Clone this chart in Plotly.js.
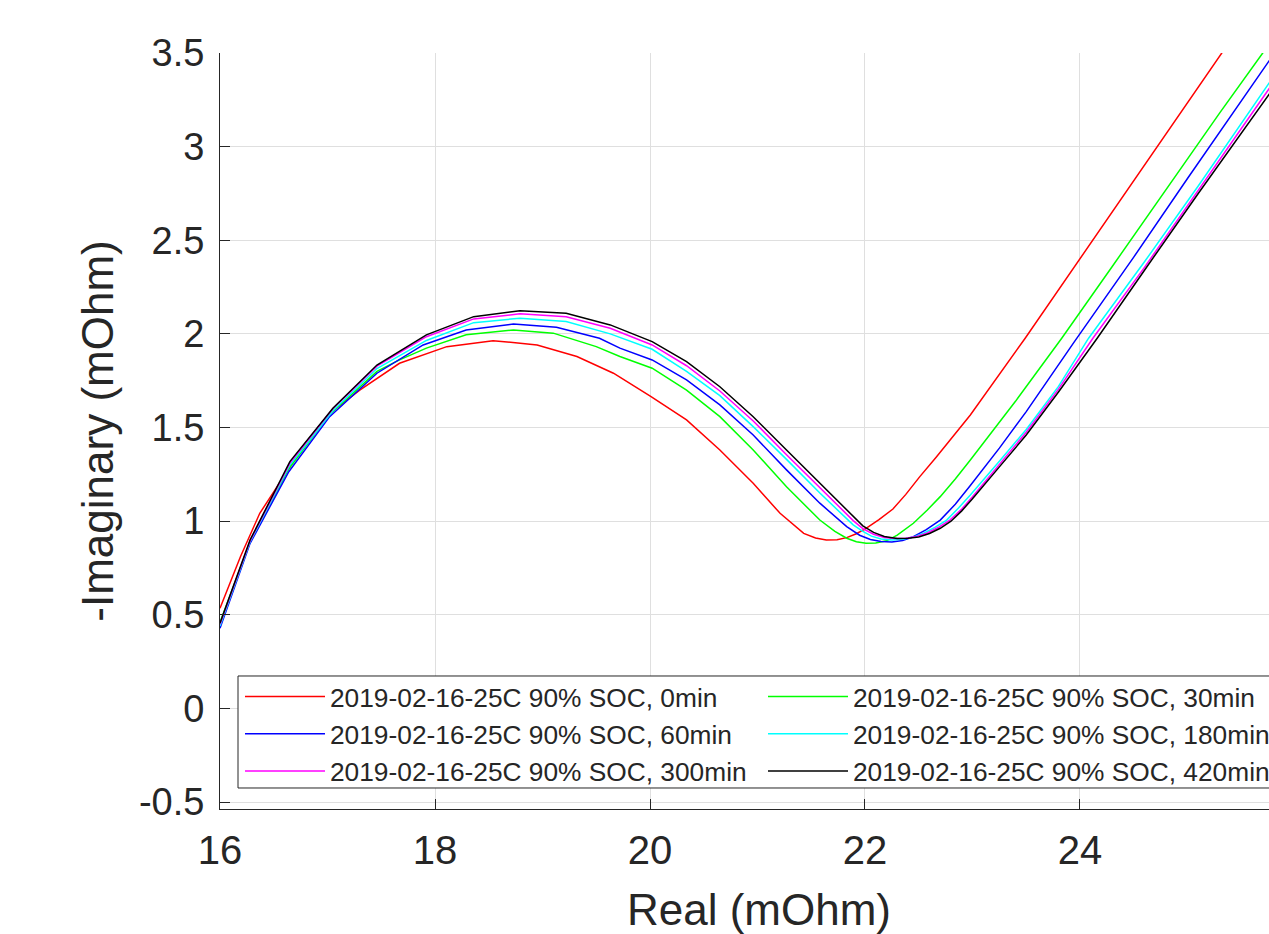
<!DOCTYPE html>
<html>
<head>
<meta charset="utf-8">
<script src="https://cdn.plot.ly/plotly-3.0.1.min.js"></script>
<style>
  html, body { margin: 0; padding: 0; background: #ffffff; overflow: hidden; width: 1269px; height: 934px; }
  #chart { width: 1298px; height: 934px; }
</style>
</head>
<body>
<div id="chart"></div>
<script>
// ---- Data ----
const seriesLabels = [
  "2019-02-16-25C 90% SOC, 0min",
  "2019-02-16-25C 90% SOC, 30min",
  "2019-02-16-25C 90% SOC, 60min",
  "2019-02-16-25C 90% SOC, 180min",
  "2019-02-16-25C 90% SOC, 300min",
  "2019-02-16-25C 90% SOC, 420min"
];
const seriesColors = ["#ff0000", "#00ff00", "#0000ff", "#00ffff", "#ff00ff", "#000000"];

const real_0min = [16.0, 16.19, 16.37, 16.59, 16.8, 17.02, 17.3, 17.67, 18.11, 18.54, 18.95, 19.32, 19.66, 20.01, 20.34, 20.65, 20.96, 21.21, 21.43, 21.54, 21.64, 21.74, 21.83, 21.92, 22.01, 22.13, 22.26, 22.38, 22.51, 22.66, 22.82, 22.98, 23.49, 24.0, 24.5, 25.0, 25.32, 25.8, 26.1];
const imag_0min = [0.535, 0.81, 1.042, 1.238, 1.42, 1.575, 1.70, 1.843, 1.932, 1.964, 1.941, 1.879, 1.79, 1.665, 1.541, 1.38, 1.202, 1.042, 0.935, 0.91, 0.90, 0.901, 0.912, 0.933, 0.962, 1.008, 1.065, 1.143, 1.238, 1.34, 1.451, 1.567, 1.977, 2.40, 2.815, 3.23, 3.5, 3.9, 4.15];

const real_30min = [16.0, 16.28, 16.64, 17.02, 17.46, 17.67, 17.92, 18.29, 18.73, 19.1, 19.5, 19.72, 20.02, 20.34, 20.65, 20.96, 21.27, 21.58, 21.72, 21.83, 21.92, 22.01, 22.1, 22.2, 22.3, 22.45, 22.58, 22.7, 22.84, 22.98, 23.4, 23.83, 24.3, 24.8, 25.3, 25.7, 26.1];
const imag_30min = [0.46, 0.89, 1.28, 1.57, 1.80, 1.861, 1.924, 1.995, 2.021, 2.004, 1.932, 1.879, 1.817, 1.70, 1.558, 1.38, 1.184, 1.006, 0.945, 0.909, 0.89, 0.882, 0.884, 0.895, 0.925, 0.989, 1.06, 1.131, 1.225, 1.327, 1.64, 1.977, 2.36, 2.77, 3.18, 3.5, 3.82];

const real_60min = [16.0, 16.28, 16.64, 17.02, 17.46, 17.89, 18.29, 18.73, 19.13, 19.53, 19.72, 20.02, 20.34, 20.65, 20.96, 21.27, 21.58, 21.83, 21.95, 22.05, 22.15, 22.25, 22.35, 22.45, 22.57, 22.7, 22.84, 22.98, 23.25, 23.5, 23.95, 24.5, 25.0, 25.76, 26.1];
const imag_60min = [0.428, 0.882, 1.264, 1.558, 1.79, 1.941, 2.021, 2.053, 2.036, 1.977, 1.924, 1.861, 1.754, 1.621, 1.46, 1.274, 1.096, 0.971, 0.925, 0.902, 0.891, 0.889, 0.897, 0.917, 0.955, 1.006, 1.09, 1.19, 1.39, 1.585, 1.96, 2.41, 2.83, 3.464, 3.74];

const real_180min = [16.0, 16.28, 16.65, 17.05, 17.46, 17.92, 18.36, 18.79, 19.22, 19.63, 20.02, 20.34, 20.65, 20.96, 21.27, 21.58, 21.89, 21.98, 22.06, 22.15, 22.25, 22.35, 22.45, 22.55, 22.65, 22.76, 22.87, 22.98, 23.25, 23.5, 23.8, 24.08, 24.6, 25.1, 25.76, 26.1];
const imag_180min = [0.44, 0.89, 1.30, 1.59, 1.815, 1.965, 2.06, 2.084, 2.066, 2.0, 1.918, 1.80, 1.67, 1.505, 1.33, 1.15, 0.98, 0.945, 0.92, 0.905, 0.899, 0.903, 0.915, 0.937, 0.967, 1.006, 1.07, 1.14, 1.32, 1.49, 1.72, 1.977, 2.385, 2.79, 3.34, 3.62];

const real_300min = [16.0, 16.28, 16.65, 17.05, 17.46, 17.92, 18.36, 18.79, 19.22, 19.63, 20.02, 20.34, 20.65, 20.96, 21.27, 21.58, 21.89, 21.98, 22.08, 22.18, 22.28, 22.38, 22.48, 22.58, 22.68, 22.79, 22.9, 23.0, 23.25, 23.5, 23.8, 24.12, 24.6, 25.1, 25.76, 26.1];
const imag_300min = [0.45, 0.895, 1.31, 1.60, 1.828, 1.985, 2.08, 2.107, 2.092, 2.03, 1.941, 1.83, 1.695, 1.535, 1.355, 1.178, 1.003, 0.96, 0.93, 0.913, 0.907, 0.909, 0.918, 0.937, 0.966, 1.006, 1.065, 1.13, 1.305, 1.475, 1.705, 1.977, 2.355, 2.765, 3.31, 3.59];

const real_420min = [16.0, 16.28, 16.65, 17.05, 17.46, 17.92, 18.36, 18.79, 19.22, 19.63, 20.02, 20.34, 20.65, 20.96, 21.27, 21.58, 21.89, 21.98, 22.08, 22.18, 22.3, 22.4, 22.5, 22.6, 22.7, 22.8, 22.9, 23.0, 23.25, 23.5, 23.8, 24.16, 24.6, 25.1, 25.76, 26.1];
const imag_420min = [0.455, 0.90, 1.318, 1.603, 1.834, 1.995, 2.092, 2.124, 2.11, 2.048, 1.959, 1.852, 1.718, 1.558, 1.38, 1.202, 1.024, 0.975, 0.94, 0.918, 0.908, 0.909, 0.916, 0.934, 0.962, 1.0, 1.055, 1.12, 1.29, 1.46, 1.69, 1.977, 2.34, 2.75, 3.28, 3.56];

const xTickVals = [16, 18, 20, 22, 24, 26];
const xTickText = ["16", "18", "20", "22", "24", "26"];
const yTickVals = [-0.5, 0, 0.5, 1, 1.5, 2, 2.5, 3, 3.5];
const yTickText = ["-0.5", "0", "0.5", "1", "1.5", "2", "2.5", "3", "3.5"];

// ---- Build traces ----
const realSeries = [real_0min, real_30min, real_60min, real_180min, real_300min, real_420min];
const imagSeries = [imag_0min, imag_30min, imag_60min, imag_180min, imag_300min, imag_420min];

const FONT = "'Liberation Sans', Arial, Helvetica, sans-serif";
const INK = "#262626";

const traces = seriesLabels.map((name, i) => ({
  type: "scatter",
  mode: "lines",
  name: name,
  x: realSeries[i],
  y: imagSeries[i],
  line: { color: seriesColors[i], width: 1.5, shape: "linear" },
  hoverinfo: "x+y+name"
}));

const layout = {
  width: 1298,
  height: 934,
  margin: { l: 220, r: 0, t: 53, b: 125, pad: 0, autoexpand: false },
  paper_bgcolor: "#ffffff",
  plot_bgcolor: "#ffffff",
  font: { family: FONT, color: INK },
  showlegend: true,
  legend: {
    x: 0.01855, xanchor: "left",
    y: 0.1799, yanchor: "top",
    orientation: "h",
    entrywidth: 428,
    entrywidthmode: "pixels",
    itemwidth: 80,
    bgcolor: "rgba(0,0,0,0)",
    borderwidth: 0,
    font: { family: FONT, size: 26.3, color: INK }
  },
  shapes: [{
    type: "rect", xref: "paper", yref: "paper",
    x0: 0.0167, x1: 1.05, y0: 0.02778, y1: 0.17593,
    line: { color: INK, width: 1 },
    fillcolor: "#ffffff",
    layer: "above"
  }],
  xaxis: {
    range: [16, 26.028],
    autorange: false,
    tickmode: "array",
    tickvals: xTickVals,
    ticktext: xTickText,
    ticks: "inside",
    ticklen: 10,
    tickwidth: 1,
    tickcolor: INK,
    ticklabelstandoff: 6,
    showline: true,
    linecolor: INK,
    linewidth: 1,
    mirror: false,
    showgrid: true,
    gridcolor: "#dfdfdf",
    gridwidth: 1,
    zeroline: false,
    automargin: false,
    tickfont: { family: FONT, size: 40, color: INK },
    title: { text: "Real (mOhm)", font: { family: FONT, size: 44, color: INK }, standoff: 30 }
  },
  yaxis: {
    range: [-0.537, 3.5],
    autorange: false,
    tickmode: "array",
    tickvals: yTickVals,
    ticktext: yTickText,
    ticks: "inside",
    ticklen: 10,
    tickwidth: 1,
    tickcolor: INK,
    ticklabelstandoff: 7,
    showline: true,
    linecolor: INK,
    linewidth: 1,
    mirror: false,
    showgrid: true,
    gridcolor: "#dfdfdf",
    gridwidth: 1,
    zeroline: false,
    automargin: false,
    tickfont: { family: FONT, size: 38, color: INK },
    title: { text: "-Imaginary (mOhm)", font: { family: FONT, size: 44, color: INK }, standoff: 11 }
  }
};

Plotly.newPlot("chart", traces, layout, { displayModeBar: false, staticPlot: true });
</script>
</body>
</html>
